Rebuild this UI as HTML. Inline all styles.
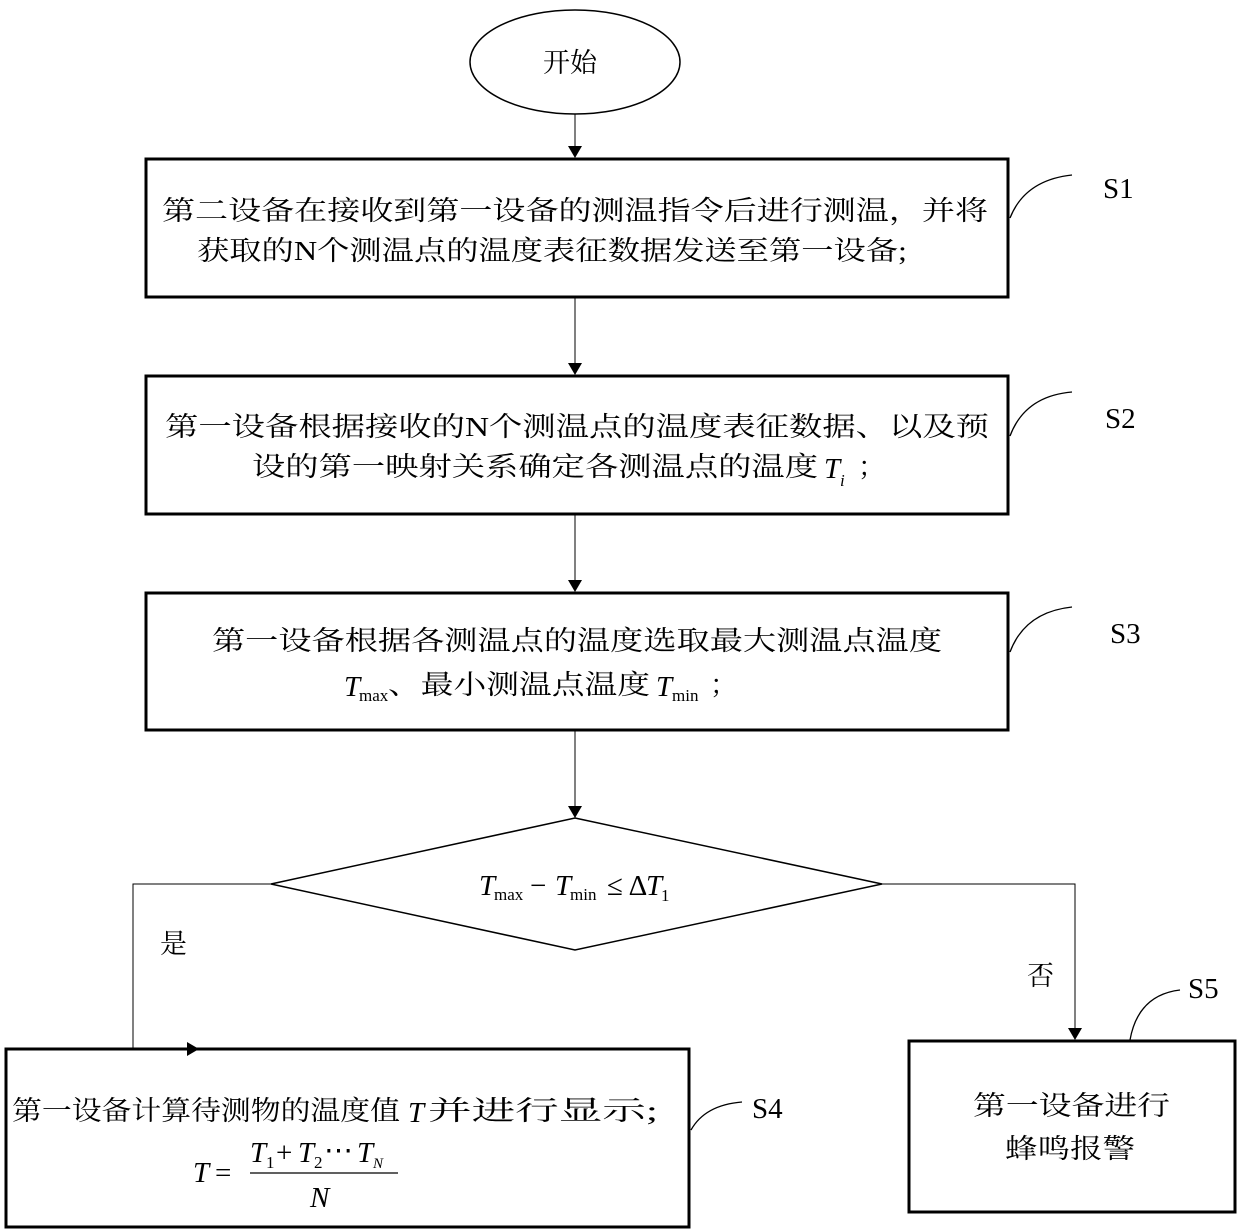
<!DOCTYPE html>
<html><head><meta charset="utf-8"><style>
html,body{margin:0;padding:0;background:#fff;}
svg{display:block;}
.t{font-family:"Liberation Serif","Noto Serif CJK SC",serif;font-size:27px;fill:#000;}
.m{font-family:"Liberation Serif",serif;font-style:italic;fill:#000;}
.s{font-family:"Liberation Serif",serif;fill:#000;}
</style></head><body>
<svg width="1240" height="1232" viewBox="0 0 1240 1232" xmlns="http://www.w3.org/2000/svg">
<defs><marker id="a" markerWidth="12" markerHeight="14" refX="11" refY="7" orient="auto" markerUnits="userSpaceOnUse"><path d="M0,0 L12,7 L0,14 z" fill="#000"/></marker></defs>
<g fill="none" stroke="#000">
<ellipse cx="575" cy="62" rx="105" ry="52" stroke-width="1.5"/>
<line x1="575" y1="114" x2="575" y2="157" stroke-width="1" marker-end="url(#a)"/>
<rect x="146" y="159" width="862" height="138" stroke-width="3"/>
<line x1="575" y1="298" x2="575" y2="374" stroke-width="1" marker-end="url(#a)"/>
<rect x="146" y="376" width="862" height="138" stroke-width="3"/>
<line x1="575" y1="515" x2="575" y2="591" stroke-width="1" marker-end="url(#a)"/>
<rect x="146" y="593" width="862" height="137" stroke-width="3"/>
<line x1="575" y1="731" x2="575" y2="817" stroke-width="1" marker-end="url(#a)"/>
<polygon points="575,818 882,884 575,950 271,884" stroke-width="1.5"/>
<polyline points="271,884 133,884 133,1048" stroke-width="1"/>
<polyline points="882,884 1075,884 1075,1039" stroke-width="1" marker-end="url(#a)"/>
<rect x="6" y="1049" width="683" height="178" stroke-width="3"/>
<line x1="133" y1="1049" x2="198" y2="1049" stroke-width="3" marker-end="url(#a)"/>
<rect x="909" y="1041" width="326" height="171" stroke-width="3"/>
<path d="M1010,218 Q1025,180 1072,175" stroke-width="1.3"/>
<path d="M1010,436 Q1025,396 1072,392" stroke-width="1.3"/>
<path d="M1010,652 Q1025,612 1072,607" stroke-width="1.3"/>
<path d="M691,1130 Q705,1105 742,1102" stroke-width="1.3"/>
<path d="M1130,1040 Q1138,995 1180,990" stroke-width="1.3"/>
</g>
<text class="t" x="543" y="72">开始</text>
<text class="t" x="162" y="220" textLength="826" lengthAdjust="spacingAndGlyphs">第二设备在接收到第一设备的测温指令后进行测温，并将</text>
<text class="t" x="197" y="260" textLength="710" lengthAdjust="spacingAndGlyphs">获取的N个测温点的温度表征数据发送至第一设备;</text>
<text class="t" x="165" y="436" textLength="824" lengthAdjust="spacingAndGlyphs">第一设备根据接收的N个测温点的温度表征数据、以及预</text>
<text class="t" x="252" y="476" textLength="566" lengthAdjust="spacingAndGlyphs">设的第一映射关系确定各测温点的温度</text>
<text class="m" x="824" y="478" font-size="29">T</text><text class="m" x="840" y="486" font-size="17">i</text>
<text class="t" x="858" y="476">；</text>
<text class="t" x="212" y="650" textLength="730" lengthAdjust="spacingAndGlyphs">第一设备根据各测温点的温度选取最大测温点温度</text>
<text class="m" x="344" y="696" font-size="29">T</text><text class="s" x="359" y="701" font-size="17">max</text>
<text class="t" x="388" y="694" textLength="262" lengthAdjust="spacingAndGlyphs">、最小测温点温度</text>
<text class="m" x="656" y="696" font-size="29">T</text><text class="s" x="672" y="701" font-size="17">min</text>
<text class="t" x="710" y="694">；</text>
<text class="m" x="479" y="895" font-size="29">T</text><text class="s" x="494" y="900" font-size="17">max</text>
<text class="s" x="530" y="895" font-size="29">−</text>
<text class="m" x="555" y="895" font-size="29">T</text><text class="s" x="570" y="900" font-size="17">min</text>
<text class="s" x="607" y="895" font-size="29">≤ Δ</text>
<text class="m" x="646" y="895" font-size="29">T</text><text class="s" x="661" y="901" font-size="17">1</text>
<text class="t" x="160" y="953">是</text>
<text class="t" x="1027" y="985">否</text>
<text class="t" x="12" y="1120" textLength="388" lengthAdjust="spacingAndGlyphs">第一设备计算待测物的温度值</text>
<text class="m" x="408" y="1122" font-size="29">T</text>
<text class="t" x="428" y="1120" textLength="230" lengthAdjust="spacingAndGlyphs">并进行显示;</text>
<text class="m" x="193" y="1182" font-size="29">T</text>
<text class="s" x="215" y="1182" font-size="29">=</text>
<text class="m" x="250" y="1162" font-size="29">T</text><text class="s" x="266" y="1168" font-size="17">1</text>
<text class="s" x="276" y="1162" font-size="29">+</text>
<text class="m" x="298" y="1162" font-size="29">T</text><text class="s" x="314" y="1168" font-size="17">2</text>
<text class="s" x="324" y="1160" font-size="29">⋯</text>
<text class="m" x="357" y="1162" font-size="29">T</text><text class="s" x="373" y="1168" font-size="15" font-style="italic">N</text>
<line x1="250" y1="1173" x2="398" y2="1173" stroke="#000" stroke-width="1.3"/>
<text class="m" x="310" y="1207" font-size="29">N</text>
<text class="t" x="973" y="1115" textLength="197" lengthAdjust="spacingAndGlyphs">第一设备进行</text>
<text class="t" x="1005" y="1158" textLength="130" lengthAdjust="spacingAndGlyphs">蜂鸣报警</text>
<text class="s" x="1103" y="198" font-size="29">S1</text>
<text class="s" x="1105" y="428" font-size="29">S2</text>
<text class="s" x="1110" y="643" font-size="29">S3</text>
<text class="s" x="752" y="1118" font-size="29">S4</text>
<text class="s" x="1188" y="998" font-size="29">S5</text>
</svg>
</body></html>
